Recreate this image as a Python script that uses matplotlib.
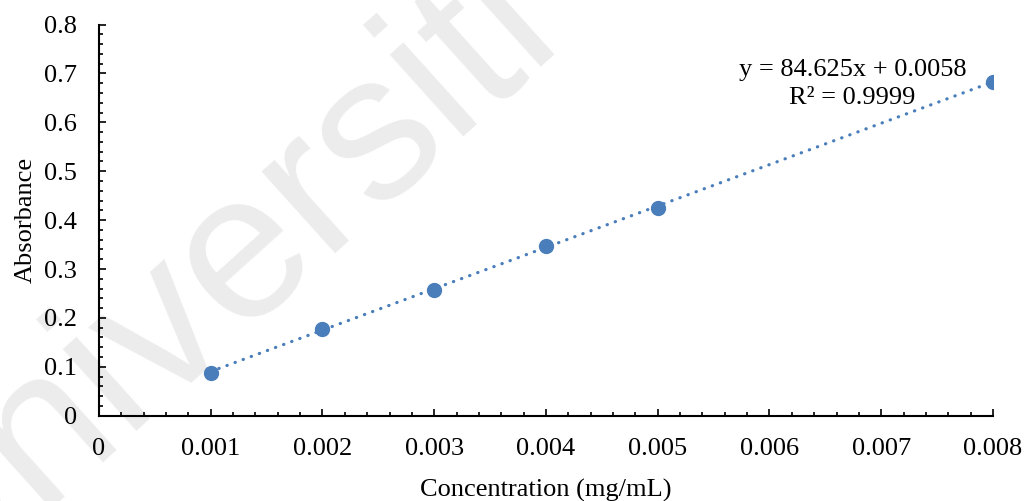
import matplotlib.pyplot as plt
import numpy as np

# standard curve readings
conc = [0.001, 0.002, 0.003, 0.004, 0.005, 0.008]
absorb = [0.088, 0.177, 0.258, 0.347, 0.424, 0.682]

# linear trendline coefficients
slope = 84.625
intercept = 0.0058
r_squared = 0.9999

x_ticks = [0, 0.001, 0.002, 0.003, 0.004, 0.005, 0.006, 0.007, 0.008]
x_labels = ['0', '0.001', '0.002', '0.003', '0.004', '0.005', '0.006', '0.007', '0.008']
y_ticks = [0, 0.1, 0.2, 0.3, 0.4, 0.5, 0.6, 0.7, 0.8]
y_labels = ['0', '0.1', '0.2', '0.3', '0.4', '0.5', '0.6', '0.7', '0.8']

plt.rcParams['font.family'] = ['Liberation Serif', 'DejaVu Serif']
blue = '#4A7EBB'
fs = 19

fig = plt.figure(figsize=(10.26, 5.01), dpi=100)

# faint watermark behind the chart
fig.text(-0.069, -0.236, 'Universiti Malaya', fontsize=150, color='#ececec',
         family='Liberation Sans', rotation=42,
         rotation_mode='anchor', ha='left', va='baseline', zorder=-1)

ax = fig.add_axes([0.0965, 0.1703, 0.8713, 0.7807])
ax.patch.set_alpha(0)

xs = np.array([conc[0], conc[-1]])
ax.plot(xs, slope * xs + intercept, color=blue, lw=2.3,
        linestyle=(0, (0.1, 2.6)), dash_capstyle='round', zorder=2)
ax.plot(conc, absorb, 'o', color=blue, markersize=10, zorder=3)

ax.set_xlim(0, 0.008)
ax.set_ylim(0, 0.8)
ax.set_xticks(x_ticks)
ax.set_xticklabels(x_labels)
ax.set_yticks(y_ticks)
ax.set_yticklabels(y_labels)
ax.set_xticks(np.arange(0, 0.0081, 0.0002), minor=True)
ax.set_yticks(np.arange(0, 0.801, 0.02), minor=True)

for s in ['top', 'right']:
    ax.spines[s].set_visible(False)
for s in ['left', 'bottom']:
    ax.spines[s].set_linewidth(1.5)

ax.tick_params(which='major', direction='in', length=5, width=1.2,
               labelsize=fs)
ax.tick_params(axis='x', which='major', pad=16)
ax.tick_params(axis='y', which='major', pad=16)
ax.tick_params(which='minor', direction='in', length=3, width=1.2)

ax.set_xlabel('Concentration (mg/mL)', fontsize=fs, labelpad=14)
ax.set_ylabel('Absorbance', fontsize=fs, labelpad=5)

ax.text(0.843, 0.848, f'y = {slope}x + {intercept}\nR² = {r_squared}',
        transform=ax.transAxes, ha='center', va='center',
        multialignment='center', linespacing=1.3, fontsize=fs)

fig.savefig('out.png', dpi=100)
